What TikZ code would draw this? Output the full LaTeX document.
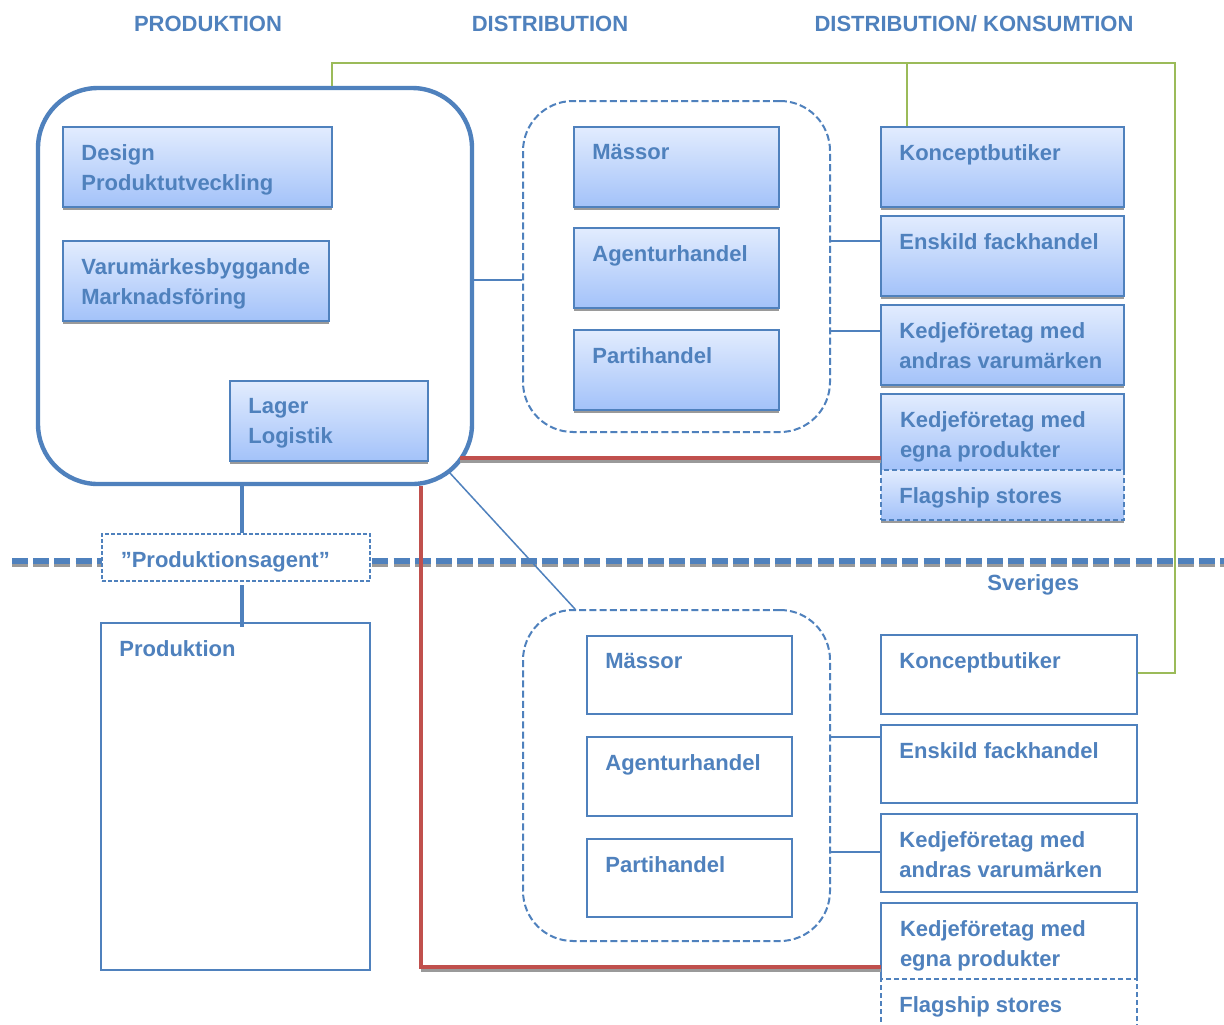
\documentclass[tikz,border=0pt]{standalone}
\usepackage{fontspec}
\setmainfont{Liberation Sans}
\usetikzlibrary{fit,shadows}
\definecolor{tblue}{HTML}{4F81BD}
\definecolor{tred}{HTML}{C0504D}
\definecolor{tgreen}{HTML}{9BBB59}
\definecolor{ftop}{HTML}{E2ECFE}
\definecolor{fbot}{HTML}{A3C2F9}
\definecolor{shd}{HTML}{9A9A9A}
\newcommand\btext[2]{\node[txt] (#1-t) at ([xshift=9.5pt,yshift=-9pt]#1.north west) {#2};}
\begin{document}
\begin{tikzpicture}[x=0.5pt,y=-0.5pt,
  gfill/.style={top color=ftop, bottom color=fbot, inner sep=0pt},
  gbox/.style={gfill, draw=tblue, line width=1pt,
    drop shadow={shadow xshift=0pt, shadow yshift=-1.6pt, fill=shd, opacity=1}},
  wbox/.style={draw=tblue, line width=1pt, fill=white, inner sep=0pt},
  txt/.style={text=tblue, font=\fontsize{11}{15}\selectfont\bfseries, inner sep=0pt, anchor=north west, align=left},
  ttl/.style={text=tblue, font=\fontsize{11}{15}\selectfont\bfseries, inner sep=0pt},
  bigbox/.style={draw=tblue, line width=2.2pt, rounded corners=30pt, inner sep=0pt},
  dbox/.style={draw=tblue, line width=1pt, dash pattern=on 3.5pt off 1.6pt, rounded corners=25pt, inner sep=0pt},
  conn/.style={draw=tblue, line width=0.75pt},
  thick conn/.style={draw=tblue, line width=1.75pt},
  redline/.style={draw=tred, line width=2.4pt},
  greenline/.style={draw=tgreen, line width=0.9pt},
  fdash/.style={dash pattern=on 2.5pt off 1.5pt}
]
\useasboundingbox (0,0) rectangle (1224,1024);
\fill[white] (0,0) rectangle (1224,1024);

% titles
\node[ttl] (t1) at (208,24) {PRODUKTION};
\node[ttl] (t2) at (550,24) {DISTRIBUTION};
\node[ttl] (t3) at (974,24) {DISTRIBUTION/ KONSUMTION};

% separator
\coordinate (sepL) at (12,561);
\coordinate (sepR) at (1230,561);
\draw[draw=shd, line width=2.6pt, dash pattern=on 8pt off 2.6pt, transform canvas={yshift=-1.5pt}] (sepL) -- (sepR);
\draw[draw=tblue, line width=2.6pt, dash pattern=on 8pt off 2.6pt] (sepL) -- (sepR);

% big production box
\node[bigbox, fit={(38,88) (472,484)}] (big) {};
\node[gbox, fit={(63,127) (332,207)}] (design) {};
\btext{design}{Design\\Produktutveckling}
\node[gbox, fit={(63,241) (329,321)}] (varu) {};
\btext{varu}{Varumärkesbyggande\\Marknadsföring}
\node[gbox, fit={(230,381) (428,461)}] (lager) {};
\btext{lager}{Lager\\Logistik}

% upper distribution
\node[dbox, fit={(523,101) (830,432)}] (dtop) {};
\node[gbox, fit={(574,127) (779,207)}] (massU) {};
\btext{massU}{Mässor}
\node[gbox, fit={(574,228) (779,308)}] (agenU) {};
\btext{agenU}{Agenturhandel}
\node[gbox, fit={(574,330) (779,410)}] (partU) {};
\btext{partU}{Partihandel}

% upper consumption
\node[gbox, fit={(881,127) (1124,207)}] (konU) {};
\btext{konU}{Konceptbutiker}
\node[gbox, fit={(881,216) (1124,296)}] (ensU) {};
\btext{ensU}{Enskild fackhandel}
\node[gbox, fit={(881,305) (1124,385)}] (kaU) {};
\btext{kaU}{Kedjeföretag med\\andras varumärken}
\node[gfill, fit={(881,394) (1124,470)}] (keU) {};
\draw[draw=tblue, line width=1pt] (keU.south west) -- (keU.north west) -- (keU.north east) -- (keU.south east);
\btext{keU}{Kedjeföretag med\\egna produkter}
\node[gbox, draw=tblue, line width=1pt, fdash, fit={(881,470) (1124,520)}] (flU) {};
\btext{flU}{Flagship stores}

% agent and production
\node[draw=tblue, line width=0.6pt, dash pattern=on 2pt off 1pt, fill=white, inner sep=0pt, fit={(102,534) (370,581)}] (agent) {};
\btext{agent}{”Produktionsagent”}
\node[wbox, fit={(101,623) (370,970)}] (prod) {};
\btext{prod}{Produktion}

\node[txt] (sver) at (987,574) {Sveriges};

% lower distribution
\node[dbox, fit={(523,610) (830,941)}] (dbot) {};
\node[wbox, fit={(587,636) (792,714)}] (massL) {};
\btext{massL}{Mässor}
\node[wbox, fit={(587,737) (792,816)}] (agenL) {};
\btext{agenL}{Agenturhandel}
\node[wbox, fit={(587,839) (792,917)}] (partL) {};
\btext{partL}{Partihandel}

% lower consumption
\node[wbox, fit={(881,635) (1137,714)}] (konL) {};
\btext{konL}{Konceptbutiker}
\node[wbox, fit={(881,725) (1137,803)}] (ensL) {};
\btext{ensL}{Enskild fackhandel}
\node[wbox, fit={(881,814) (1137,892)}] (kaL) {};
\btext{kaL}{Kedjeföretag med\\andras varumärken}
\node[fill=white, inner sep=0pt, fit={(881,903) (1137,979)}] (keL) {};
\draw[draw=tblue, line width=1pt] (keL.south west) -- (keL.north west) -- (keL.north east) -- (keL.south east);
\btext{keL}{Kedjeföretag med\\egna produkter}
\node[draw=tblue, line width=1pt, fdash, fill=white, inner sep=0pt, fit={(881,979) (1137,1045)}] (flL) {};
\btext{flL}{Flagship stores}

% helper coordinates
\coordinate (c1) at (0,280);
\coordinate (c2) at (0,241);
\coordinate (c3) at (0,331);
\coordinate (c4) at (0,737);
\coordinate (c5) at (0,852);
\coordinate (a1) at (242,0);
\coordinate (a2) at (242,585);
\coordinate (a3) at (242,627);
\coordinate (d1) at (449,472);
\coordinate (d2) at (575,0);
\coordinate (r1) at (460,458);
\coordinate (redx) at (421,967);
\coordinate (g1) at (332,63);
\coordinate (g2) at (1175,63);
\coordinate (g3) at (1175,673);
\coordinate (g4) at (907,63);

% blue connectors
\draw[conn] (big.east |- c1) -- (dtop.west |- c1);
\draw[conn] (dtop.east |- c2) -- (ensU.west |- c2);
\draw[conn] (dtop.east |- c3) -- (kaU.west |- c3);
\draw[conn] (dbot.east |- c4) -- (ensL.west |- c4);
\draw[conn] (dbot.east |- c5) -- (kaL.west |- c5);
\draw[conn] (d1) -- (dbot.north -| d2);
\draw[thick conn] (big.south -| a1) -- (agent.north -| a1);
\draw[thick conn] (a2) -- (a3);

% red lines
\draw[draw=shd, line width=2.4pt, transform canvas={yshift=-1.4pt}] (r1) -- (keU.west |- r1);
\draw[redline] (r1) -- (keU.west |- r1);
\draw[draw=shd, line width=2.4pt, transform canvas={yshift=-1.4pt}] (redx) -- (keL.west |- redx);
\draw[redline] (big.south -| redx) -- (redx) -- (keL.west |- redx);

% green lines
\draw[greenline] (big.north -| g1) -- (g1) -- (g2) -- (g3) -- (konL.east |- g3);
\draw[greenline] (g4) -- (konU.north -| g4);
\end{tikzpicture}
\end{document}
